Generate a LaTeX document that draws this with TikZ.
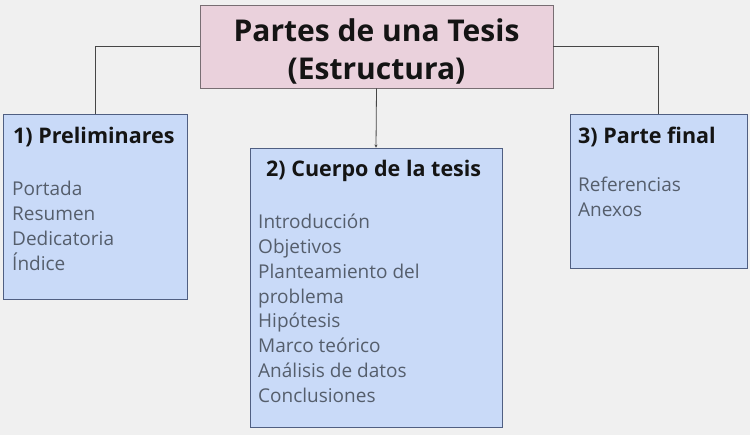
\documentclass[tikz,border=0pt]{standalone}
\usepackage{fontspec}
\setmainfont{Open Sans}
\usetikzlibrary{arrows.meta}
\definecolor{bg}{RGB}{240,240,240}
\definecolor{pinkfill}{RGB}{234,209,220}
\definecolor{bluefill}{RGB}{201,218,248}
\definecolor{pinkline}{RGB}{120,110,115}
\definecolor{blueline}{RGB}{80,95,130}
\definecolor{itemgray}{RGB}{85,94,108}
\definecolor{headblack}{RGB}{20,20,20}
\definecolor{wire}{RGB}{70,70,70}
\tikzset{
  x=1pt,y=1pt,
  titlebox/.style={draw=pinkline,line width=0.9pt,fill=pinkfill,inner sep=0pt},
  partbox/.style={draw=blueline,line width=0.9pt,fill=bluefill,inner sep=0pt},
  heading/.style={font=\fontsize{21.5}{26}\selectfont\bfseries,text=headblack,inner sep=0pt,anchor=west},
  items/.style={font=\fontsize{19}{24.8}\selectfont,text=itemgray,inner sep=0pt,align=left,anchor=north west},
  wirestyle/.style={draw=wire,line width=0.8pt},
}
\begin{document}
\begin{tikzpicture}
\useasboundingbox (0,0) rectangle (750,435);
\fill[bg] (0,0) rectangle (750,435);
% boxes
\node[titlebox,minimum width=353,minimum height=83] (title) at (376.5,388.5) {};
\node[partbox,minimum width=184,minimum height=185] (left) at (95,228.5) {};
\node[partbox,minimum width=252,minimum height=279] (mid) at (376,147.5) {};
\node[partbox,minimum width=177,minimum height=154] (right) at (658.5,244) {};
% title text
\node[font=\fontsize{30}{38}\selectfont\bfseries,text=headblack,align=center,inner sep=0pt] (titletext) at (376.5,384) {Partes de una Tesis\\(Estructura)};
% headings
\node[heading] (h1) at (13,298) {1) Preliminares};
\node[heading] (h2) at (266,264) {2) Cuerpo de la tesis};
\node[heading] (h3) at (578,298) {3) Parte final};
% items
\node[items] (i1) at (12,254) {Portada\\Resumen\\Dedicatoria\\Índice};
\node[items] (i2) at (258,221) {Introducción\\Objetivos\\Planteamiento del\\problema\\Hipótesis\\Marco teórico\\Análisis de datos\\Conclusiones};
\node[items] (i3) at (578,258) {Referencias\\Anexos};
% connectors
\draw[wirestyle] (title.west) -| (left.north);
\draw[wirestyle] (title.east) -| (right.north);
\draw[wirestyle,-{Stealth[length=3pt,width=3pt]}] (title.south) -- (mid.north);
\end{tikzpicture}
\end{document}
